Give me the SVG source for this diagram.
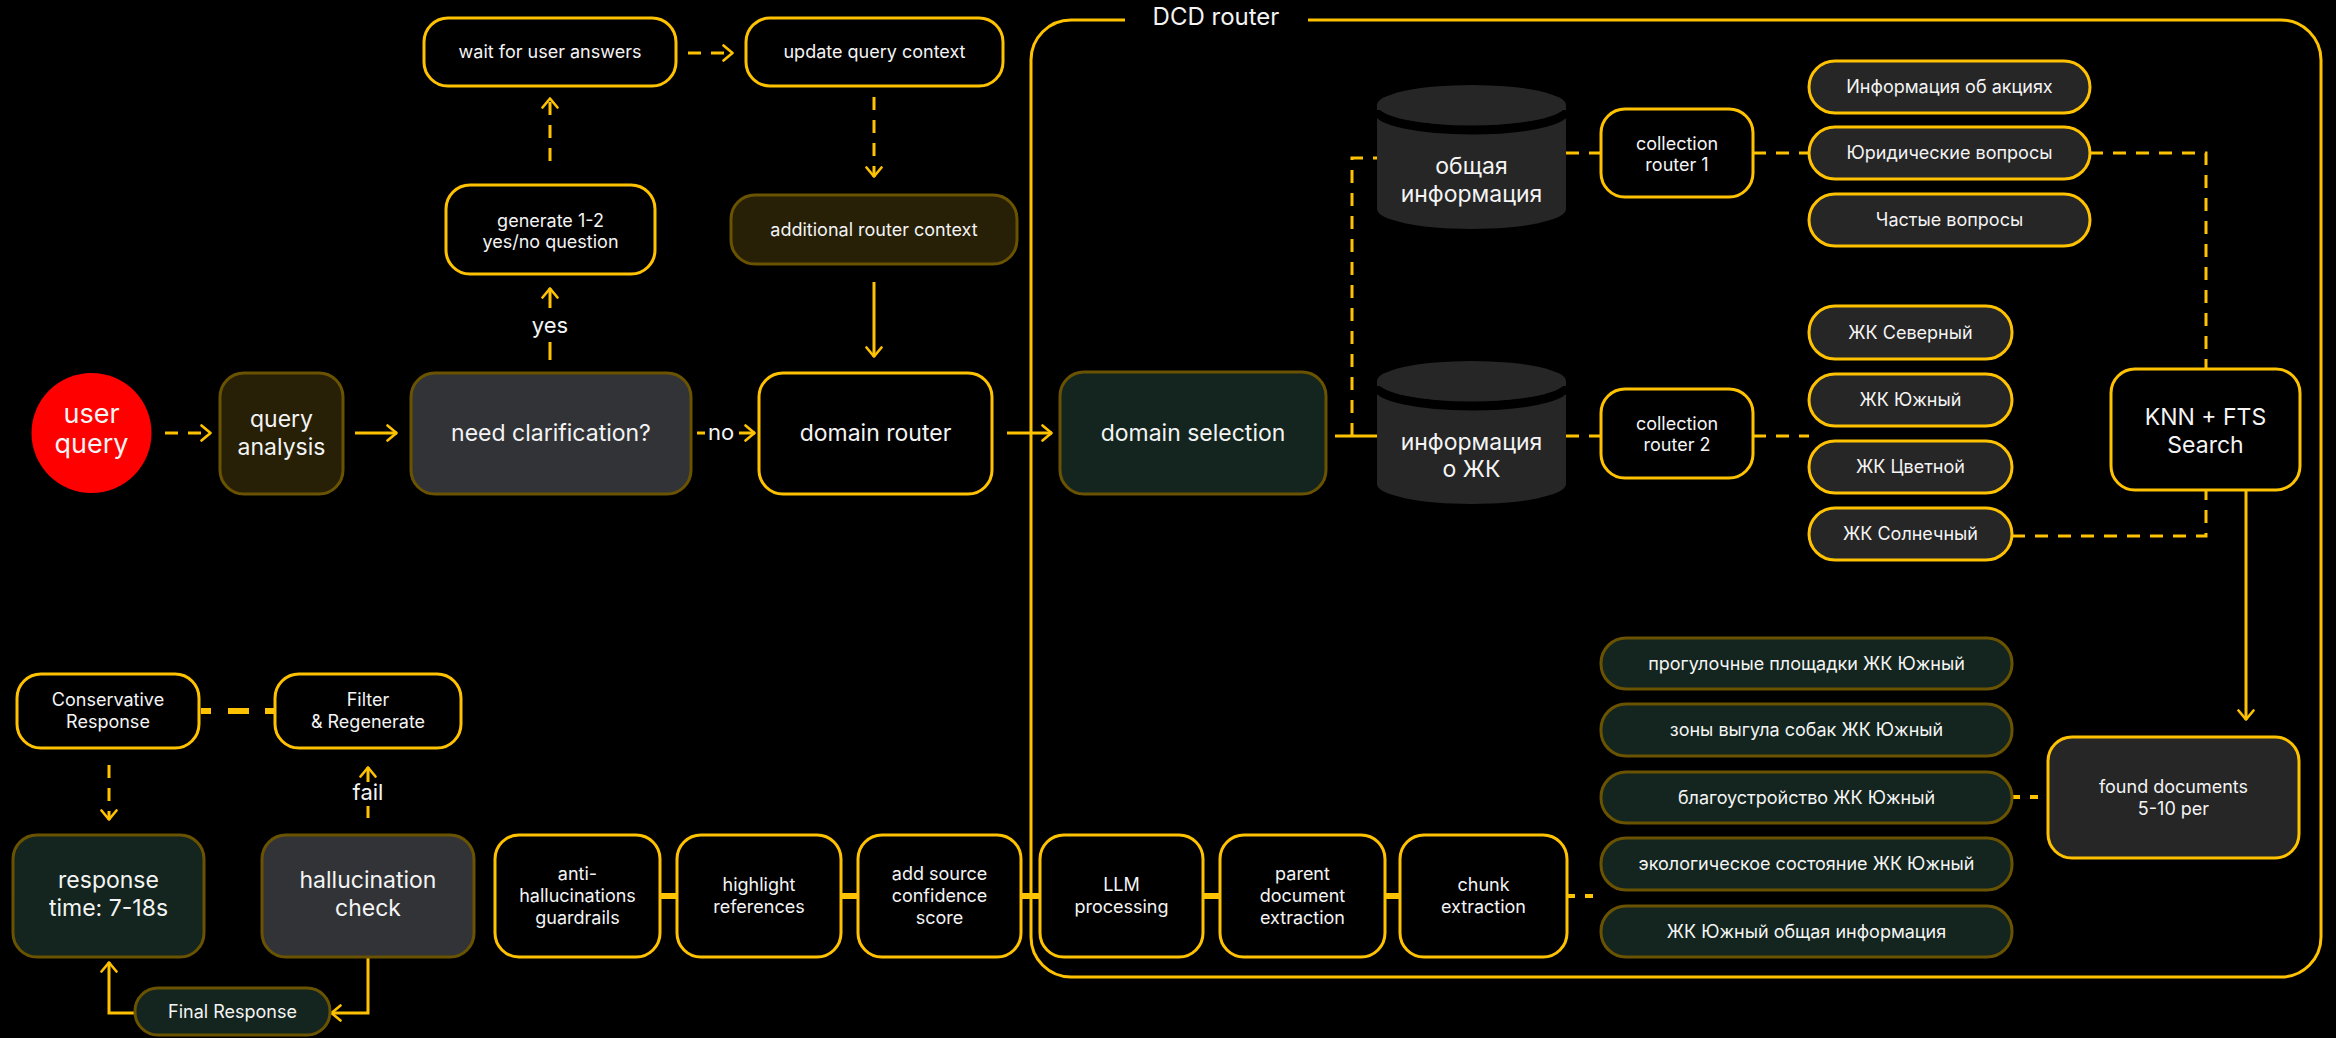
<svg xmlns="http://www.w3.org/2000/svg" width="2336" height="1038" viewBox="0 0 2336 1038">
<defs>
<style>
.bg{fill:#000}
.nb{fill:#000;stroke:#FFC200;stroke-width:3}
.nd{fill:#262626;stroke:#FFC200;stroke-width:3}
.ng{fill:#13251e;stroke:#6a5300;stroke-width:3}
.nbr{fill:#271f06;stroke:#6a5300;stroke-width:3}
.ngr{fill:#323337;stroke:#6a5300;stroke-width:3}
.cyl{fill:#262626}
.band{fill:none;stroke:#000;stroke-width:9}
.s{fill:none;stroke:#FFC200;stroke-width:3}
.d{fill:none;stroke:#FFC200;stroke-width:3;stroke-dasharray:13 10}
.th{fill:none;stroke:#FFC200;stroke-width:6}
.t{font-family:Inter,"Noto Sans","DejaVu Sans",sans-serif;fill:#f4f4f4;text-anchor:middle}
.f18{font-size:18px}
.f23{font-size:23px}
.f22{font-size:22px}
.f24{font-size:24px}
.f27{font-size:27px}
</style>
<marker id="ah" viewBox="0 0 12 18" refX="11" refY="9" markerWidth="12" markerHeight="18" markerUnits="userSpaceOnUse" orient="auto">
<path d="M1.5,1.5 L10.5,9 L1.5,16.5" fill="none" stroke="#FFC200" stroke-width="2.6" stroke-linecap="round" stroke-linejoin="round"/>
</marker>
</defs>
<rect class="bg" x="0" y="0" width="2336" height="1038"/>

<g id="dcd-router-frame">
<path class="s" d="M1125,20 H1071 A40,40 0 0 0 1031,60 V937 A40,40 0 0 0 1071,977 H2281 A40,40 0 0 0 2321,937 V60 A40,40 0 0 0 2281,20 H1308"/>
<text class="t f24" x="1216" y="25">DCD router</text>
</g>

<g id="connectors">
<path class="d" d="M165,433 H211" marker-end="url(#ah)"/>
<path class="s" d="M355,433 H397" marker-end="url(#ah)"/>
<path class="s" d="M697,433 H705"/>
<text class="t f22" x="721" y="440">no</text>
<path class="s" d="M739,433 H755" marker-end="url(#ah)"/>
<path class="s" d="M1007,433 H1052" marker-end="url(#ah)"/>
<path class="s" d="M550,360 V342"/>
<text class="t f22" x="550" y="333">yes</text>
<path class="s" d="M550,308 V288" marker-end="url(#ah)"/>
<path class="d" d="M550,161 V98" marker-end="url(#ah)"/>
<path class="d" d="M688,53 H733" marker-end="url(#ah)"/>
<path class="d" d="M874,97 V177" marker-end="url(#ah)"/>
<path class="s" d="M874,282 V357" marker-end="url(#ah)"/>
<path class="s" d="M1335,436 H1377"/>
<path class="d" d="M1352,436 V158 H1377"/>
<path class="d" d="M1566,153 H1601"/>
<path class="d" d="M1753,153 H1809"/>
<path class="d" d="M2090,153 H2206 V369"/>
<path class="d" d="M1566,436 H1601"/>
<path class="d" d="M1753,436 H1809"/>
<path class="d" d="M2012,536 H2206 V490"/>
<path class="s" d="M2246,490 V720" marker-end="url(#ah)"/>
<path class="d" d="M2012,797 H2048" style="stroke-width:4;stroke-dasharray:8 10"/>
<path class="d" d="M1567,896 H1601" style="stroke-width:4;stroke-dasharray:8 10"/>
<path class="th" d="M1385,896 H1400 M1203,896 H1220 M1021,896 H1040 M841,896 H858 M660,896 H677"/>
<path class="s" d="M368,818 V806"/>
<text class="t f22" x="368" y="800">fail</text>
<path class="s" d="M368,782 V767" marker-end="url(#ah)"/>
<path class="th" d="M201,711 H275" style="stroke-dasharray:10 17 21 16 10"/>
<path class="d" d="M109,765 V820" marker-end="url(#ah)"/>
<path class="s" d="M368,957 V1013 H331" marker-end="url(#ah)"/>
<path class="s" d="M135,1013 H109 V962" marker-end="url(#ah)"/>
</g>

<g id="user-query">
<circle cx="91.5" cy="433" r="60" fill="#FF0000"/>
<text class="t f27" x="91.5" y="423">user</text>
<text class="t f27" x="91.5" y="453">query</text>
</g>
<g id="query-analysis">
<rect class="nbr" x="220" y="373" width="123" height="121" rx="24"/>
<text class="t f23" x="281.5" y="427">query</text>
<text class="t f23" x="281.5" y="455">analysis</text>
</g>
<g id="need-clarification">
<rect class="ngr" x="411" y="373" width="280" height="121" rx="24"/>
<text class="t f23" x="551" y="441">need clarification?</text>
</g>
<g id="generate-question">
<rect class="nb" x="446" y="185" width="209" height="89" rx="24"/>
<text class="t f18" x="550.5" y="227">generate 1-2</text>
<text class="t f18" x="550.5" y="248">yes/no question</text>
</g>
<g id="wait-answers">
<rect class="nb" x="424" y="18" width="252" height="68" rx="24"/>
<text class="t f18" x="550" y="58">wait for user answers</text>
</g>
<g id="update-context">
<rect class="nb" x="746" y="18" width="257" height="68" rx="24"/>
<text class="t f18" x="874.5" y="58">update query context</text>
</g>
<g id="additional-context">
<rect class="nbr" x="731" y="195" width="286" height="69" rx="24"/>
<text class="t f18" x="874" y="236">additional router context</text>
</g>
<g id="domain-router">
<rect class="nb" x="759" y="373" width="233" height="121" rx="24"/>
<text class="t f23" x="875.5" y="441">domain router</text>
</g>
<g id="domain-selection">
<rect class="ng" x="1060" y="372" width="266" height="122" rx="24"/>
<text class="t f23" x="1193" y="441">domain selection</text>
</g>
<g id="db-general">
<path class="cyl" d="M1377,105 V209 A94.5,20 0 0 0 1566,209 V105 Z"/>
<path class="band" d="M1377,110 A94.5,20 0 0 0 1566,110"/>
<ellipse class="cyl" cx="1471.5" cy="105" rx="94.5" ry="20"/>
<text class="t f23" x="1471.5" y="174">общая</text>
<text class="t f23" x="1471.5" y="202">информация</text>
</g>
<g id="db-zhk">
<path class="cyl" d="M1377,381 V484 A94.5,20 0 0 0 1566,484 V381 Z"/>
<path class="band" d="M1377,386 A94.5,20 0 0 0 1566,386"/>
<ellipse class="cyl" cx="1471.5" cy="381" rx="94.5" ry="20"/>
<text class="t f23" x="1471.5" y="450">информация</text>
<text class="t f23" x="1471.5" y="477">о ЖК</text>
</g>
<g id="collection-router-1">
<rect class="nb" x="1601" y="109" width="152" height="88" rx="24"/>
<text class="t f18" x="1677" y="150">collection</text>
<text class="t f18" x="1677" y="171">router 1</text>
</g>
<g id="collection-router-2">
<rect class="nb" x="1601" y="389" width="152" height="89" rx="24"/>
<text class="t f18" x="1677" y="430">collection</text>
<text class="t f18" x="1677" y="451">router 2</text>
</g>
<g id="promo-info">
<rect class="nd" x="1809" y="61" width="281" height="52" rx="26"/>
<text class="t f18" x="1949.5" y="93">Информация об акциях</text>
</g>
<g id="legal-questions">
<rect class="nd" x="1809" y="127" width="281" height="52" rx="26"/>
<text class="t f18" x="1949.5" y="159">Юридические вопросы</text>
</g>
<g id="faq">
<rect class="nd" x="1809" y="194" width="281" height="52" rx="26"/>
<text class="t f18" x="1949.5" y="226">Частые вопросы</text>
</g>
<g id="zhk-north">
<rect class="nd" x="1809" y="306" width="203" height="53" rx="26"/>
<text class="t f18" x="1910.5" y="339">ЖК Северный</text>
</g>
<g id="zhk-south">
<rect class="nd" x="1809" y="374" width="203" height="52" rx="26"/>
<text class="t f18" x="1910.5" y="406">ЖК Южный</text>
</g>
<g id="zhk-color">
<rect class="nd" x="1809" y="441" width="203" height="52" rx="26"/>
<text class="t f18" x="1910.5" y="473">ЖК Цветной</text>
</g>
<g id="zhk-sun">
<rect class="nd" x="1809" y="508" width="203" height="52" rx="26"/>
<text class="t f18" x="1910.5" y="540">ЖК Солнечный</text>
</g>
<g id="knn-fts">
<rect class="nb" x="2111" y="369" width="189" height="121" rx="24"/>
<text class="t f23" x="2205.5" y="425">KNN + FTS</text>
<text class="t f23" x="2205.5" y="453">Search</text>
</g>
<g id="found-documents">
<rect class="nd" x="2048" y="737" width="251" height="121" rx="24"/>
<text class="t f18" x="2173.5" y="793">found documents</text>
<text class="t f18" x="2173.5" y="815">5-10 per</text>
</g>
<g id="doc-1">
<rect class="ng" x="1601" y="638" width="411" height="51" rx="25"/>
<text class="t f18" x="1806.5" y="670">прогулочные площадки ЖК Южный</text>
</g>
<g id="doc-2">
<rect class="ng" x="1601" y="704" width="411" height="52" rx="25"/>
<text class="t f18" x="1806.5" y="736">зоны выгула собак ЖК Южный</text>
</g>
<g id="doc-3">
<rect class="ng" x="1601" y="772" width="411" height="51" rx="25"/>
<text class="t f18" x="1806.5" y="804">благоустройство ЖК Южный</text>
</g>
<g id="doc-4">
<rect class="ng" x="1601" y="838" width="411" height="52" rx="25"/>
<text class="t f18" x="1806.5" y="870">экологическое состояние ЖК Южный</text>
</g>
<g id="doc-5">
<rect class="ng" x="1601" y="906" width="411" height="51" rx="25"/>
<text class="t f18" x="1806.5" y="938">ЖК Южный общая информация</text>
</g>
<g id="chunk-extraction">
<rect class="nb" x="1400" y="835" width="167" height="122" rx="24"/>
<text class="t f18" x="1483.5" y="891">chunk</text>
<text class="t f18" x="1483.5" y="913">extraction</text>
</g>
<g id="parent-document-extraction">
<rect class="nb" x="1220" y="835" width="165" height="122" rx="24"/>
<text class="t f18" x="1302.5" y="880">parent</text>
<text class="t f18" x="1302.5" y="902">document</text>
<text class="t f18" x="1302.5" y="924">extraction</text>
</g>
<g id="llm-processing">
<rect class="nb" x="1040" y="835" width="163" height="122" rx="24"/>
<text class="t f18" x="1121.5" y="891">LLM</text>
<text class="t f18" x="1121.5" y="913">processing</text>
</g>
<g id="add-source-confidence">
<rect class="nb" x="858" y="835" width="163" height="122" rx="24"/>
<text class="t f18" x="939.5" y="880">add source</text>
<text class="t f18" x="939.5" y="902">confidence</text>
<text class="t f18" x="939.5" y="924">score</text>
</g>
<g id="highlight-references">
<rect class="nb" x="677" y="835" width="164" height="122" rx="24"/>
<text class="t f18" x="759" y="891">highlight</text>
<text class="t f18" x="759" y="913">references</text>
</g>
<g id="anti-hallucination-guardrails">
<rect class="nb" x="495" y="835" width="165" height="122" rx="24"/>
<text class="t f18" x="577.5" y="880">anti-</text>
<text class="t f18" x="577.5" y="902">hallucinations</text>
<text class="t f18" x="577.5" y="924">guardrails</text>
</g>
<g id="hallucination-check">
<rect class="ngr" x="262" y="835" width="212" height="122" rx="24"/>
<text class="t f23" x="368" y="888">hallucination</text>
<text class="t f23" x="368" y="916">check</text>
</g>
<g id="response-time">
<rect class="ng" x="13" y="835" width="191" height="122" rx="24"/>
<text class="t f23" x="108.5" y="888">response</text>
<text class="t f23" x="108.5" y="916">time: 7-18s</text>
</g>
<g id="conservative-response">
<rect class="nb" x="17" y="674" width="182" height="74" rx="24"/>
<text class="t f18" x="108" y="706">Conservative</text>
<text class="t f18" x="108" y="728">Response</text>
</g>
<g id="filter-regenerate">
<rect class="nb" x="275" y="674" width="186" height="74" rx="24"/>
<text class="t f18" x="368" y="706">Filter</text>
<text class="t f18" x="368" y="728">&amp; Regenerate</text>
</g>
<g id="final-response">
<rect class="ng" x="135" y="988" width="195" height="47" rx="23"/>
<text class="t f18" x="232.5" y="1018">Final Response</text>
</g>
</svg>
